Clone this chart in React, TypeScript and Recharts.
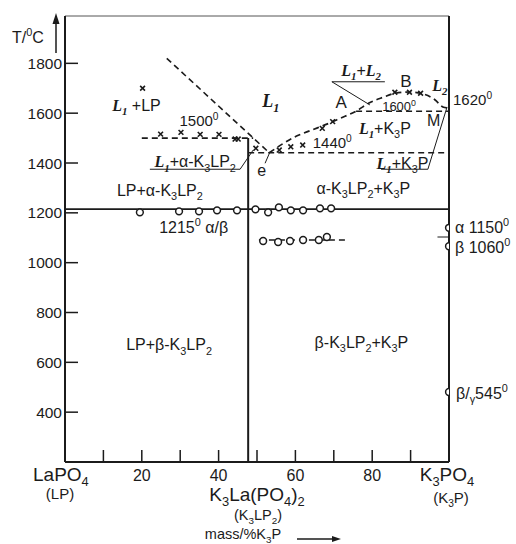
import React from "react";
import {
  ComposedChart,
  Line,
  Scatter,
  XAxis,
  YAxis,
  ReferenceLine,
  ReferenceDot,
} from "recharts";

const INK = "#1b1b1b";
const SANS = "'Liberation Sans', Arial, sans-serif";
const SERIF = "'Liberation Serif', 'Times New Roman', serif";

// axis ticks (mass % K3P, temperature in °C)
const X_TICKS = [10, 20, 30, 40, 50, 60, 70, 80, 90];
const Y_TICKS = [400, 600, 800, 1000, 1200, 1400, 1600, 1800];

// K3La(PO4)2 composition, mass % K3P
const K3LP2_X = 47.7;

// LP liquidus (straight dashed line down to the eutectic e)
const LP_LIQ_X = [26.5, 53.2];
const LP_LIQ_T = [1820, 1441];

// K3P liquidus from e through A, then the L1+L2 dome over B to 1620°
const K3P_LIQ_X = [53.2, 56.9, 60.3, 64.2, 68.2, 71.6, 75.8, 79.3, 82.9, 86.0, 89.8, 93.3, 96.4, 98.4, 100];
const K3P_LIQ_T = [1441, 1479, 1508, 1532, 1556, 1579, 1608, 1642, 1664, 1680, 1685, 1677, 1653, 1625, 1620];

// dashed isotherms: peritectic 1500, eutectic 1440, monotectic 1600, lower 1090 line
const DASHED_FROM = [20, 47.7, 75.8, 50.5];
const DASHED_TO = [49, 100, 100, 73];
const DASHED_T = [1500, 1441, 1608, 1091];

// alpha/beta transition of K3LP2 (solid, full width)
const AB_T = 1215;

// DTA points: crosses (liquid) and circles (solid-state effects)
const CROSS_X = [20.2, 24.9, 30.2, 35.2, 40.1, 44.3, 45.1, 49.7, 55.8, 58.8, 61.9, 67.0, 69.7, 85.9, 89.7, 92.6];
const CROSS_T = [1700, 1516, 1523, 1515, 1515, 1496, 1496, 1459, 1452, 1465, 1472, 1539, 1566, 1684, 1684, 1680];
const CIRCLE_X = [19.5, 29.7, 34.9, 39.6, 44.8, 49.6, 52.9, 55.7, 58.8, 62.0, 66.4, 69.3, 51.6, 55.5, 58.6, 62.0, 66.1, 68.2];
const CIRCLE_T = [1202, 1206, 1206, 1210, 1210, 1214, 1202, 1222, 1210, 1210, 1218, 1218, 1087, 1083, 1087, 1091, 1091, 1103];

// K3PO4 polymorphic transitions on the right axis
const K3P_TRANS_T = [1140, 1066, 481];

const liqLP = LP_LIQ_X.map((x, i) => ({ x, t: LP_LIQ_T[i] }));
const liqK3P = K3P_LIQ_X.map((x, i) => ({ x, t: K3P_LIQ_T[i] }));
const crosses = CROSS_X.map((x, i) => ({ x, t: CROSS_T[i] }));
const circles = CIRCLE_X.map((x, i) => ({ x, t: CIRCLE_T[i] }));
const k3pPoints = K3P_TRANS_T.map((t) => ({ x: 100, t }));

type Seg = { text: string; kind: "n" | "sub" | "sup"; it: boolean };

// tiny markup: *..* italic serif, _x subscript, ^x superscript
function parse(src: string): Seg[] {
  const out: Seg[] = [];
  let it = false;
  for (let i = 0; i < src.length; i++) {
    const c = src[i];
    if (c === "*") {
      it = !it;
      continue;
    }
    let kind: Seg["kind"] = "n";
    let ch = c;
    if (c === "_" || c === "^") {
      kind = c === "_" ? "sub" : "sup";
      ch = src[++i];
    }
    const last = out[out.length - 1];
    if (last && last.kind === kind && last.it === it) last.text += ch;
    else out.push({ text: ch, kind, it });
  }
  return out;
}

function Rich({ x, y, src, size = 16, anchor = "middle" }: any) {
  const segs = parse(src);
  let off = 0;
  return (
    <text
      x={x}
      y={y + size * 0.35}
      textAnchor={anchor}
      fontFamily={SANS}
      fontSize={size}
      fill={INK}
    >
      {segs.map((s, i) => {
        const target = s.kind === "sub" ? size * 0.26 : s.kind === "sup" ? -size * 0.4 : 0;
        const dy = target - off;
        off = target;
        return (
          <tspan
            key={i}
            dy={dy}
            fontSize={s.kind === "n" ? size : size * 0.68}
            fontFamily={s.it ? SERIF : undefined}
            fontStyle={s.it ? "italic" : undefined}
            fontWeight={s.it ? "bold" : undefined}
          >
            {s.text}
          </tspan>
        );
      })}
    </text>
  );
}

// phase field labels, placed in data coordinates
const NOTES = [
  { x: 18.6, t: 1633, src: "*L_1* +LP", size: 16 },
  { x: 34.9, t: 1568, src: "1500^0", size: 15 },
  { x: 53.6, t: 1649, src: "*L_1*", size: 18 },
  { x: 33.9, t: 1405, src: "*L_1*+α-K_3LP_2", size: 16 },
  { x: 51.2, t: 1372, src: "e", size: 16 },
  { x: 71.9, t: 1646, src: "A", size: 17 },
  { x: 77.1, t: 1773, src: "*L_1*+*L_2*", size: 16 },
  { x: 88.8, t: 1730, src: "B", size: 17 },
  { x: 97.6, t: 1713, src: "*L_2*", size: 16 },
  { x: 87.0, t: 1626, src: "1600^0", size: 13 },
  { x: 96.0, t: 1572, src: "M", size: 16 },
  { x: 83.3, t: 1539, src: "*L_1*+K_3P", size: 16 },
  { x: 69.6, t: 1480, src: "1440^0", size: 15 },
  { x: 87.9, t: 1399, src: "*L_1*+K_3P", size: 16 },
  { x: 24.7, t: 1292, src: "LP+α-K_3LP_2", size: 16 },
  { x: 77.7, t: 1300, src: "α-K_3LP_2+K_3P", size: 16 },
  { x: 33.5, t: 1143, src: "1215^0 α/β", size: 16 },
  { x: 27.1, t: 670, src: "LP+β-K_3LP_2", size: 16 },
  { x: 77.2, t: 682, src: "β-K_3LP_2+K_3P", size: 16 },
];

// labels next to the K3PO4 axis
const SIDE_NOTES = [
  { t: 1653, src: "1620^0", size: 15, dx: 4 },
  { t: 1143, src: "α 1150^0", size: 16, dx: 6 },
  { t: 1063, src: "β 1060^0", size: 16, dx: 6 },
  { t: 477, src: "β/_γ545^0", size: 16, dx: 7 },
];

// label underlines and pointers
const LEADERS = [
  [[22.1, 1375], [45.6, 1375]],
  [[45.6, 1375], [49.0, 1452]],
  [[52.1, 1399], [53.4, 1445]],
  [[82.3, 1375], [94.5, 1375]],
  [[94.5, 1375], [99.5, 1625]],
  [[69.5, 1726], [83.3, 1726]],
  [[69.5, 1726], [79.4, 1633]],
  [[97.0, 1103], [100, 1103]],
];

const CrossShape = (p: any) => {
  const { cx, cy } = p;
  const s = 2.4;
  return (
    <path
      d={`M${cx - s},${cy - s}L${cx + s},${cy + s}M${cx - s},${cy + s}L${cx + s},${cy - s}`}
      stroke={INK}
      strokeWidth={1.6}
    />
  );
};

const CircleShape = (p: any) => (
  <circle cx={p.cx} cy={p.cy} r={3.4} fill="#fff" stroke={INK} strokeWidth={1.5} />
);

export default function App() {
  return (
    <div
      style={{
        position: "absolute",
        left: 0,
        top: 0,
        width: 516,
        height: 544,
        background: "#fff",
        overflow: "hidden",
      }}
    >
      <ComposedChart
        width={516}
        height={544}
        margin={{ top: 16, right: 67, bottom: 0, left: 0 }}
      >
        <XAxis
          type="number"
          dataKey="x"
          domain={[0, 100]}
          ticks={X_TICKS}
          interval={0}
          allowDataOverflow
          tickFormatter={(v) => (v % 20 === 0 ? String(v) : "")}
          tickSize={-12}
          tickMargin={20}
          height={82}
          axisLine={{ stroke: INK, strokeWidth: 2 }}
          tickLine={{ stroke: INK, strokeWidth: 1.5 }}
          tick={{ fill: INK, fontSize: 16, fontFamily: SANS }}
        />
        <YAxis
          type="number"
          dataKey="t"
          domain={[200, 1990]}
          ticks={Y_TICKS}
          interval={0}
          allowDataOverflow
          width={65}
          tickSize={-13}
          tickMargin={16}
          axisLine={{ stroke: INK, strokeWidth: 2 }}
          tickLine={{ stroke: INK, strokeWidth: 1.5 }}
          tick={{ fill: INK, fontSize: 15.5, fontFamily: SANS }}
        />

        {/* frame */}
        <ReferenceLine y={1990} stroke="#555" strokeWidth={1} />
        <ReferenceLine x={100} stroke={INK} strokeWidth={2} />

        {/* K3LP2 compound line */}
        <ReferenceLine
          segment={[
            { x: K3LP2_X, y: 1500 },
            { x: K3LP2_X, y: 200 },
          ]}
          stroke={INK}
          strokeWidth={2}
        />

        {/* alpha/beta K3LP2 */}
        <ReferenceLine y={AB_T} stroke={INK} strokeWidth={1.6} />

        {LEADERS.map((seg, i) => (
          <ReferenceLine
            key={`ld-${i}`}
            segment={[
              { x: seg[0][0], y: seg[0][1] },
              { x: seg[1][0], y: seg[1][1] },
            ]}
            stroke={INK}
            strokeWidth={1}
          />
        ))}

        {DASHED_T.map((t, i) => (
          <Line
            key={`iso-${i}`}
            data={[
              { x: DASHED_FROM[i], t },
              { x: DASHED_TO[i], t },
            ]}
            dataKey="t"
            type="linear"
            stroke={INK}
            strokeWidth={1.6}
            strokeDasharray="6 4"
            dot={false}
            activeDot={false}
            isAnimationActive={false}
          />
        ))}

        <Line
          data={liqLP}
          dataKey="t"
          type="linear"
          stroke={INK}
          strokeWidth={1.6}
          strokeDasharray="6 4"
          dot={false}
          activeDot={false}
          isAnimationActive={false}
        />
        <Line
          data={liqK3P}
          dataKey="t"
          type="monotone"
          stroke={INK}
          strokeWidth={1.7}
          strokeDasharray="6 4"
          dot={false}
          activeDot={false}
          isAnimationActive={false}
        />

        <Scatter data={crosses} dataKey="t" shape={CrossShape} isAnimationActive={false} />
        <Scatter data={circles} dataKey="t" shape={CircleShape} isAnimationActive={false} />
        <Scatter data={k3pPoints} dataKey="t" shape={CircleShape} isAnimationActive={false} />

        {NOTES.map((n, i) => (
          <ReferenceDot
            key={`n-${i}`}
            x={n.x}
            y={n.t}
            r={0}
            ifOverflow="visible"
            shape={(p: any) => <Rich x={p.cx} y={p.cy} src={n.src} size={n.size} />}
          />
        ))}
        {SIDE_NOTES.map((n, i) => (
          <ReferenceDot
            key={`s-${i}`}
            x={100}
            y={n.t}
            r={0}
            ifOverflow="visible"
            shape={(p: any) => (
              <Rich x={p.cx + n.dx} y={p.cy} src={n.src} size={n.size} anchor="start" />
            )}
          />
        ))}
      </ComposedChart>

      {/* axis titles and end-member names */}
      <svg
        width={516}
        height={544}
        style={{ position: "absolute", left: 0, top: 0, pointerEvents: "none" }}
      >
        <Rich x={12} y={37} src="T/^0C" size={16} anchor="start" />
        <line x1={56} y1={53} x2={56} y2={22} stroke={INK} strokeWidth={1.5} />
        <path d="M56,13 L52.5,24 L59.5,24 Z" fill={INK} />

        <Rich x={33} y={474} src="LaPO_4" size={19} anchor="start" />
        <Rich x={60} y={494} src="(LP)" size={15} />
        <Rich x={257} y={494} src="K_3La(PO_4)_2" size={19} />
        <Rich x={258} y={515} src="(K_3LP_2)" size={14.5} />
        <Rich x={243} y={534} src="mass/%K_3P" size={14.5} />
        <Rich x={447} y={474} src="K_3PO_4" size={19} />
        <Rich x={451} y={498} src="(K_3P)" size={15} />
        <line x1={297} y1={539} x2={334} y2={539} stroke={INK} strokeWidth={1.3} />
        <path d="M341,539 L332,536 L332,542 Z" fill={INK} />
      </svg>
    </div>
  );
}
